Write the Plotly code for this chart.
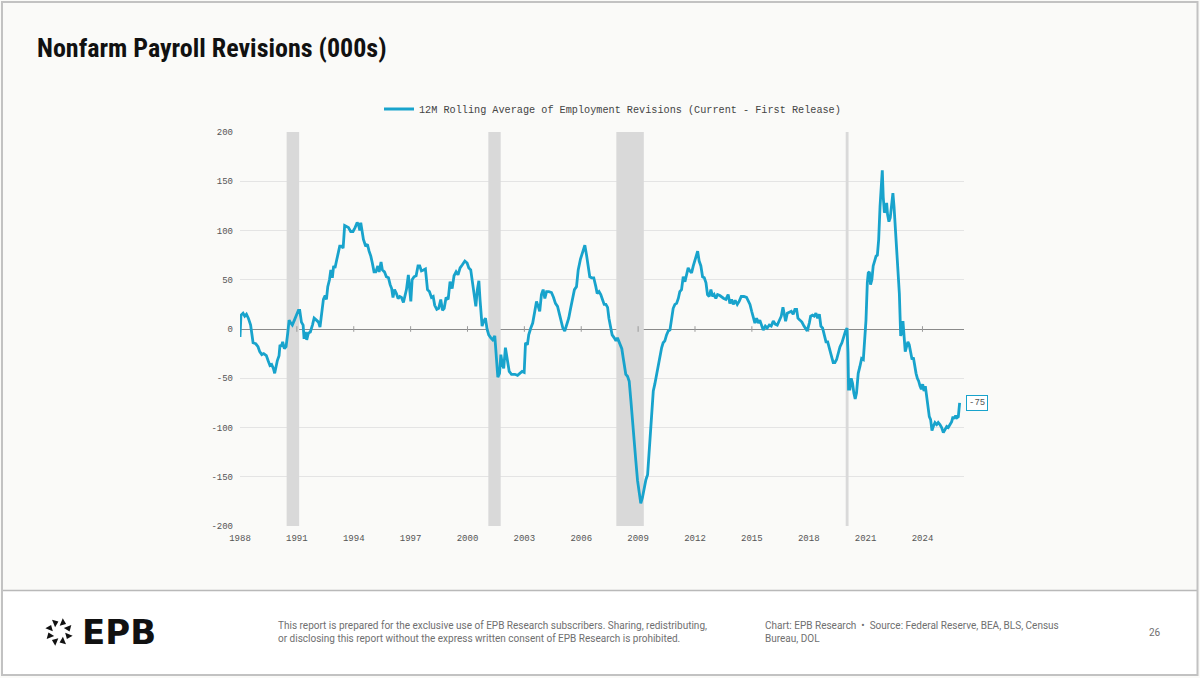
import math
import plotly.graph_objects as go

# ---------------- data ----------------
years = [
    1988.00, 1988.05, 1988.16, 1988.25, 1988.34, 1988.44, 1988.56, 1988.69, 1988.83, 1988.95,
    1989.04, 1989.15, 1989.25, 1989.39, 1989.48, 1989.58, 1989.67, 1989.76, 1989.83, 1989.90, 1989.97,
    1990.06, 1990.11, 1990.18, 1990.25, 1990.34, 1990.43, 1990.52, 1990.59, 1990.68, 1990.76, 1990.87, 1990.99,
    1991.08, 1991.15, 1991.24, 1991.33, 1991.38, 1991.45, 1991.52, 1991.61, 1991.71, 1991.82, 1991.91,
    1992.03, 1992.14, 1992.22, 1992.31, 1992.40, 1992.49, 1992.56, 1992.63, 1992.72, 1992.79, 1992.87, 1992.94,
    1993.01, 1993.10, 1993.17, 1993.26, 1993.37, 1993.44, 1993.52, 1993.63, 1993.72, 1993.84, 1993.96,
    1994.07, 1994.18, 1994.25, 1994.32, 1994.37, 1994.46, 1994.51, 1994.63, 1994.72, 1994.81, 1994.90, 1994.98,
    1995.07, 1995.16, 1995.27, 1995.34, 1995.44, 1995.51, 1995.62, 1995.72, 1995.83, 1995.92,
    1996.00, 1996.07, 1996.15, 1996.25, 1996.34, 1996.43, 1996.52, 1996.62, 1996.71, 1996.78, 1996.88,
    1997.01, 1997.08, 1997.18, 1997.29, 1997.39, 1997.48, 1997.57, 1997.68, 1997.78, 1997.89, 1997.99,
    1998.10, 1998.19, 1998.27, 1998.38, 1998.48, 1998.59, 1998.68, 1998.77, 1998.87, 1998.98,
    1999.08, 1999.19, 1999.29, 1999.40, 1999.50, 1999.61, 1999.72, 1999.86, 1999.98,
    2000.07, 2000.17, 2000.26, 2000.35, 2000.44, 2000.52, 2000.60, 2000.66, 2000.77, 2000.86, 2000.95,
    2001.03, 2001.12, 2001.23, 2001.33, 2001.44, 2001.51, 2001.60, 2001.69, 2001.76, 2001.84, 2001.91,
    2002.00, 2002.11, 2002.20, 2002.32, 2002.50, 2002.64, 2002.76, 2002.88, 2002.99,
    2003.06, 2003.16, 2003.23, 2003.34, 2003.44, 2003.55, 2003.64, 2003.73, 2003.81, 2003.90, 2003.99,
    2004.08, 2004.17, 2004.29, 2004.43, 2004.54, 2004.64, 2004.75, 2004.83, 2004.92,
    2005.03, 2005.13, 2005.24, 2005.34, 2005.43, 2005.54, 2005.64, 2005.75, 2005.84, 2005.96,
    2006.10, 2006.19, 2006.28, 2006.37, 2006.45, 2006.55, 2006.66, 2006.77, 2006.84, 2006.94,
    2007.03, 2007.12, 2007.21, 2007.30, 2007.39, 2007.46, 2007.54, 2007.63, 2007.74, 2007.83, 2007.91,
    2008.00, 2008.07, 2008.14, 2008.21, 2008.28, 2008.35, 2008.44, 2008.53, 2008.62, 2008.70, 2008.79, 2008.88, 2008.97,
    2009.06, 2009.14, 2009.23, 2009.32, 2009.41, 2009.50, 2009.55, 2009.62, 2009.71, 2009.80, 2009.88, 2009.97,
    2010.06, 2010.15, 2010.24, 2010.32, 2010.41, 2010.50, 2010.59, 2010.68, 2010.76, 2010.85, 2010.94,
    2011.03, 2011.12, 2011.20, 2011.29, 2011.38, 2011.47, 2011.56, 2011.64, 2011.73, 2011.82, 2011.91,
    2012.00, 2012.08, 2012.14, 2012.22, 2012.31, 2012.40, 2012.49, 2012.58, 2012.66, 2012.75, 2012.84, 2012.93,
    2013.01, 2013.10, 2013.19, 2013.31, 2013.42, 2013.52, 2013.63, 2013.75, 2013.84, 2013.93,
    2014.02, 2014.12, 2014.23, 2014.33, 2014.44, 2014.58, 2014.72, 2014.81, 2014.90, 2014.99,
    2015.07, 2015.16, 2015.25, 2015.34, 2015.42, 2015.51, 2015.60, 2015.71, 2015.81, 2015.92,
    2016.02, 2016.13, 2016.23, 2016.34, 2016.44, 2016.55, 2016.64, 2016.71, 2016.78, 2016.87, 2016.97,
    2017.08, 2017.18, 2017.27, 2017.36, 2017.43, 2017.54, 2017.64, 2017.75, 2017.83, 2017.92,
    2018.03, 2018.10, 2018.20, 2018.29, 2018.38, 2018.47, 2018.56, 2018.64, 2018.73, 2018.82, 2018.91,
    2019.00, 2019.07, 2019.15, 2019.22, 2019.29, 2019.38, 2019.47, 2019.56, 2019.65, 2019.75, 2019.86, 2019.94,
    2020.02, 2020.07, 2020.10, 2020.17, 2020.24, 2020.31, 2020.38, 2020.45, 2020.52, 2020.61, 2020.70, 2020.79, 2020.88, 2020.97,
    2021.02, 2021.09, 2021.14, 2021.20, 2021.26, 2021.33, 2021.40, 2021.49, 2021.55, 2021.62, 2021.69, 2021.76, 2021.83, 2021.88, 2021.93, 2021.99,
    2022.06, 2022.11, 2022.16, 2022.23, 2022.30, 2022.37, 2022.44, 2022.50, 2022.57, 2022.64, 2022.71, 2022.78, 2022.85, 2022.92, 2022.97,
    2023.02, 2023.09, 2023.16, 2023.23, 2023.30, 2023.37, 2023.45, 2023.52, 2023.59, 2023.66, 2023.73, 2023.80, 2023.87, 2023.94,
    2024.01, 2024.08, 2024.15, 2024.22, 2024.29, 2024.36, 2024.43, 2024.50, 2024.57, 2024.66, 2024.75, 2024.83, 2024.92,
    2025.01, 2025.10, 2025.19, 2025.28, 2025.36, 2025.45, 2025.54, 2025.61, 2025.68, 2025.75, 2025.82, 2025.89, 2025.96,
]

revisions = [
    -8, 14, 16, 13, 15, 11, 4, -14, -15, -18,
    -23, -26, -25, -27, -32, -37, -36, -40, -45, -38, -32,
    -27, -16, -18, -13, -20, -18, -4, 9, 6, 4, 9, 16,
    19, 19, 7, 4, -10, -3, -11, -4, -3, 4, 11,
    9, 7, 2, 14, 30, 34, 30, 43, 50, 60, 52, 64,
    62, 70, 76, 84, 84, 82, 105, 104, 103, 99, 99,
    103, 108, 106, 100, 108, 98, 91, 84, 86, 79, 74, 67,
    58, 58, 64, 58, 68, 60, 58, 53, 52, 45,
    41, 32, 40, 36, 31, 33, 32, 27, 33, 40, 55,
    28, 50, 53, 54, 64, 64, 59, 60, 61, 40, 38,
    32, 33, 24, 20, 21, 30, 19, 21, 32, 30,
    48, 41, 54, 58, 55, 62, 65, 69, 67,
    62, 60, 47, 32, 23, 40, 49, 30, 3, 8, 11,
    0, -6, -9, -11, -7, -28, -49, -45, -26, -36, -40,
    -19, -31, -43, -46, -46, -47, -45, -43, -44,
    -14, -16, -6, 1, 6, 18, 28, 23, 18, 35, 40,
    31, 38, 38, 37, 32, 26, 23, 16, 8,
    1, -2, 4, 11, 20, 30, 40, 43, 60, 71,
    80, 85, 75, 64, 53, 52, 52, 43, 36, 38,
    35, 30, 25, 25, 22, 11, 3, -6, -9, -12, -9,
    -14, -16, -20, -29, -40, -46, -48, -53, -73, -94, -114, -134, -154,
    -168, -177, -171, -161, -153, -148, -134, -107, -80, -63, -56, -46,
    -36, -26, -19, -14, -12, -6, -2, -1, 9, 21, 25,
    26, 31, 38, 40, 53, 48, 56, 62, 59, 57, 64,
    69, 74, 79, 69, 64, 53, 52, 47, 35, 33, 40, 33,
    35, 31, 35, 34, 32, 31, 30, 35, 26, 30,
    25, 29, 25, 28, 33, 33, 32, 28, 25, 18,
    13, 6, 11, 6, 9, 4, -1, 3, 1, 4,
    3, 8, 5, 4, 9, 13, 22, 15, 8, 16, 17,
    18, 15, 20, 20, 11, 9, 7, 3, 1, -2,
    6, 13, 14, 13, 16, 11, 15, 3, 1, -6, -13,
    -13, -19, -24, -29, -34, -34, -31, -24, -18, -14, -6, -2,
    1, -24, -61, -61, -50, -55, -65, -71, -65, -45, -38, -30, -31, -7,
    9, 47, 57, 58, 45, 50, 64, 70, 74, 75, 91, 124, 148, 161, 134, 118,
    121, 128, 116, 109, 113, 128, 138, 124, 104, 84, 64, 36, -7, -2, 8,
    -7, -23, -18, -13, -16, -23, -31, -29, -40, -45, -50, -53, -58, -61,
    -56, -63, -58, -68, -78, -89, -92, -103, -99, -95, -97, -95, -97,
    -100, -105, -102, -99, -100, -97, -94, -89, -91, -88, -90, -89, -75,
]
assert len(years) == len(revisions)

recession_starts = [1990.46, 2001.10, 2007.85, 2019.95]
recession_ends = [1991.12, 2001.75, 2009.30, 2020.10]

tick_years = [1988, 1991, 1994, 1997, 2000, 2003, 2006, 2009, 2012, 2015, 2018, 2021, 2024]
y_ticks = [-200, -150, -100, -50, 0, 50, 100, 150, 200]

series_name = "12M Rolling Average of Employment Revisions (Current - First Release)"
title_text = "Nonfarm Payroll Revisions (000s)"
disclaimer = ("This report is prepared for the exclusive use of EPB Research subscribers. Sharing, redistributing,"
              "<br>or disclosing this report without the express written consent of EPB Research is prohibited.")
source_text = "Chart: EPB Research  \u2022  Source: Federal Reserve, BEA, BLS, Census<br>Bureau, DOL"
page_number = "26"

# ---------------- style ----------------
W, H = 1200, 678
LINE = "#18a3cc"
MONO = "Liberation Mono, DejaVu Sans Mono, monospace"
GROTESK = "Liberation Sans Narrow, Roboto Condensed, DejaVu Sans Condensed, Roboto, sans-serif"
SANS = "Roboto, Inter, sans-serif"


def px_x(p):
    return p / W


def px_y(p):
    return 1 - p / H


fig = go.Figure()

# recession bands drawn as filled traces (below the line, above gridlines)
for s, e in zip(recession_starts, recession_ends):
    fig.add_trace(go.Scatter(
        x=[s, e, e, s, s], y=[-200, -200, 200, 200, -200], mode="lines",
        fill="toself", fillcolor="#d9d9d9", line=dict(width=0, color="#d9d9d9"),
        showlegend=False, hoverinfo="skip",
    ))

# small tick marks sitting on the zero line
fig.add_trace(go.Scatter(
    x=tick_years, y=[0] * len(tick_years), mode="markers",
    marker=dict(symbol="line-ns", size=4, line=dict(color="#9a9a9a", width=1)),
    showlegend=False, hoverinfo="skip",
))

fig.add_trace(go.Scatter(
    x=years, y=revisions, mode="lines", name=series_name,
    line=dict(color=LINE, width=2.8), hoverinfo="skip",
))

# logo ring (8 small triangles)
ring_angles = [k * 45 + 22.5 for k in range(8)]
fig.add_trace(go.Scatter(
    x=[math.cos(math.radians(a)) for a in ring_angles],
    y=[math.sin(math.radians(a)) for a in ring_angles],
    xaxis="x2", yaxis="y2", mode="markers", showlegend=False, hoverinfo="skip",
    marker=dict(symbol="triangle-up", size=7, color="#111111",
                angle=[180 - a for a in ring_angles], line=dict(width=0)),
))

shapes = [
    dict(type="rect", xref="paper", yref="paper", layer="below",
         x0=px_x(2), x1=px_x(1197), y0=px_y(675), y1=px_y(591),
         fillcolor="#ffffff", line=dict(width=0)),
    dict(type="line", xref="paper", yref="paper", layer="below",
         x0=px_x(2), x1=px_x(1197), y0=px_y(590.5), y1=px_y(590.5),
         line=dict(color="#b9b9b9", width=1.5)),
    dict(type="rect", xref="paper", yref="paper", layer="below",
         x0=px_x(2), x1=px_x(1197.5), y0=px_y(675), y1=px_y(2),
         fillcolor="rgba(0,0,0,0)", line=dict(color="#c2c2c2", width=2)),
]

annotations = [
    dict(text=f"{revisions[-1]:.0f}", xref="paper", yref="y", x=px_x(966), y=revisions[-1],
         xanchor="left", yanchor="middle", showarrow=False,
         font=dict(family=MONO, size=9, color="#555555"),
         bordercolor=LINE, borderwidth=1, borderpad=2, bgcolor="#ffffff"),
    dict(text="EPB", xref="paper", yref="paper", x=px_x(80), y=px_y(632),
         xanchor="left", yanchor="middle", showarrow=False,
         font=dict(family="DejaVu Sans, sans-serif", size=34, color="#111111", weight="bold")),
    dict(text=disclaimer, xref="paper", yref="paper", x=px_x(276), y=px_y(632),
         xanchor="left", yanchor="middle", align="left", showarrow=False,
         font=dict(family=SANS, size=10, color="#6f6f6f")),
    dict(text=source_text, xref="paper", yref="paper", x=px_x(763), y=px_y(632),
         xanchor="left", yanchor="middle", align="left", showarrow=False,
         font=dict(family=SANS, size=10, color="#6f6f6f")),
    dict(text=page_number, xref="paper", yref="paper", x=px_x(1155), y=px_y(632),
         xanchor="center", yanchor="middle", showarrow=False,
         font=dict(family=SANS, size=10, color="#6f6f6f")),
]

x_range = [1988.0, 2026.19]

fig.update_layout(
    width=W, height=H,
    margin=dict(l=0, r=0, t=0, b=0, pad=0, autoexpand=False),
    paper_bgcolor="#fafaf8",
    plot_bgcolor="rgba(0,0,0,0)",
    title=dict(text=title_text, xref="container", yref="container", automargin=False,
               x=px_x(37), y=px_y(48), xanchor="left", yanchor="middle",
               font=dict(family=GROTESK, size=26, color="#111111", weight="bold")),
    showlegend=True,
    legend=dict(orientation="h", xref="container", yref="container",
                x=px_x(379), y=px_y(109), xanchor="left", yanchor="middle",
                font=dict(family=MONO, size=10.2, color="#444444"),
                bgcolor="rgba(0,0,0,0)", borderwidth=0),
    xaxis=dict(domain=[px_x(240), px_x(964)], range=x_range, anchor="y",
               tickmode="array", tickvals=tick_years, ticktext=[str(t) for t in tick_years],
               showgrid=False, zeroline=False, showline=False, ticks="", automargin=False,
               ticklabelstandoff=5,
               tickfont=dict(family=MONO, size=9, color="#555555")),
    yaxis=dict(domain=[px_y(526), px_y(132)], range=[-200, 200], anchor="x",
               tickmode="array", tickvals=y_ticks, ticktext=[str(v) for v in y_ticks],
               showgrid=True, gridcolor="#e4e4e4", gridwidth=1,
               zeroline=True, zerolinecolor="#8a8a8a", zerolinewidth=1, automargin=False,
               showline=False, ticks="", ticklabelstandoff=6,
               tickfont=dict(family=MONO, size=9, color="#555555")),
    xaxis2=dict(domain=[px_x(44), px_x(74)], range=[-1.5, 1.5], visible=False, anchor="y2"),
    yaxis2=dict(domain=[px_y(647), px_y(617)], range=[-1.5, 1.5], visible=False, anchor="x2"),
    shapes=shapes,
    annotations=annotations,
)

fig.write_html("out.html")
